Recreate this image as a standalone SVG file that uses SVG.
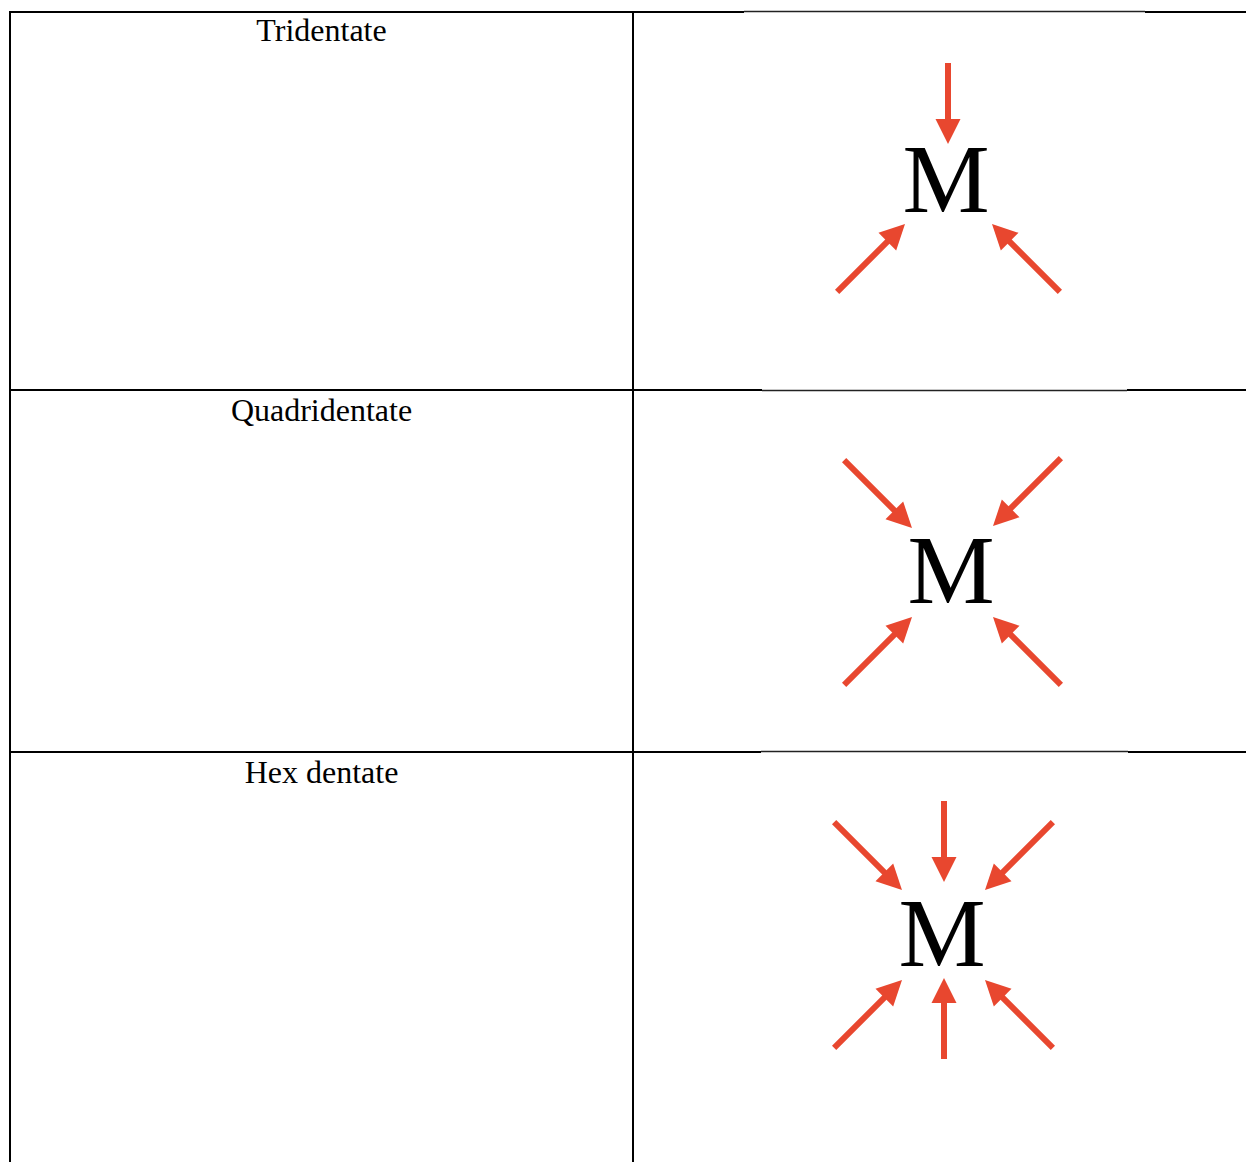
<svg xmlns="http://www.w3.org/2000/svg" xmlns:xlink="http://www.w3.org/1999/xlink" width="1246" height="1162" viewBox="0 0 1246 1162">
  <style>
    .grid { stroke: #000; stroke-width: 2; fill: none; }
    .grid-thin { stroke: #222; stroke-width: 1.5; fill: none; }
    .label { font-family: "Liberation Serif", "Times New Roman", serif; font-size: 32px; fill: #000; text-anchor: middle; }
    .metal { font-family: "Liberation Serif", "Times New Roman", serif; font-size: 98px; fill: #000; text-anchor: middle; }
    .shaft { stroke: #e8472f; stroke-width: 6; fill: none; }
    .head { fill: #e8472f; }
  </style>
  <defs>
    <!-- arrows point along +x with the tip at the origin -->
    <g id="arrow-long">
      <line class="shaft" x1="-96" y1="0" x2="-20" y2="0"/>
      <polygon class="head" points="0,0 -25,-12.5 -25,12.5"/>
    </g>
    <g id="arrow-short">
      <line class="shaft" x1="-81" y1="0" x2="-20" y2="0"/>
      <polygon class="head" points="0,0 -25,-12.5 -25,12.5"/>
    </g>
  </defs>

  <rect width="1246" height="1162" fill="#fff"/>

  <!-- table rules -->
  <g id="table">
    <line class="grid" x1="10" y1="12" x2="744" y2="12"/>
    <line class="grid-thin" x1="744" y1="11.5" x2="1145" y2="11.5"/>
    <line class="grid" x1="1145" y1="12" x2="1246" y2="12"/>
    <line class="grid" x1="10" y1="390" x2="762" y2="390"/>
    <line class="grid-thin" x1="762" y1="390.5" x2="1127" y2="390.5"/>
    <line class="grid" x1="1127" y1="390" x2="1246" y2="390"/>
    <line class="grid" x1="10" y1="752" x2="761" y2="752"/>
    <line class="grid-thin" x1="761" y1="751.5" x2="1128" y2="751.5"/>
    <line class="grid" x1="1128" y1="752" x2="1246" y2="752"/>
    <line class="grid" x1="10" y1="11" x2="10" y2="1162"/>
    <line class="grid" x1="633" y1="11" x2="633" y2="1162"/>
  </g>

  <!-- row labels -->
  <g id="label-tridentate"><text class="label" x="321.5" y="41">Tridentate</text></g>
  <g id="label-quadridentate"><text class="label" x="321.5" y="421">Quadridentate</text></g>
  <g id="label-hexdentate"><text class="label" x="321.5" y="783">Hex dentate</text></g>

  <!-- metal centres -->
  <g id="metal-tri"><text class="metal" x="946" y="212">M</text></g>
  <g id="metal-quad"><text class="metal" x="951" y="603">M</text></g>
  <g id="metal-hex"><text class="metal" x="942" y="966">M</text></g>

  <!-- donor arrows -->
  <g id="connectors">
    <!-- tridentate -->
    <use xlink:href="#arrow-short" transform="translate(948,144) rotate(90)"/>
    <use xlink:href="#arrow-long" transform="translate(905,224) rotate(-45)"/>
    <use xlink:href="#arrow-long" transform="translate(992,224) rotate(-135)"/>
    <!-- quadridentate -->
    <use xlink:href="#arrow-long" transform="translate(912,528) rotate(45)"/>
    <use xlink:href="#arrow-long" transform="translate(993,526) rotate(135)"/>
    <use xlink:href="#arrow-long" transform="translate(912,617) rotate(-45)"/>
    <use xlink:href="#arrow-long" transform="translate(993,617) rotate(-135)"/>
    <!-- hexadentate -->
    <use xlink:href="#arrow-long" transform="translate(902,890) rotate(45)"/>
    <use xlink:href="#arrow-short" transform="translate(944,882) rotate(90)"/>
    <use xlink:href="#arrow-long" transform="translate(985,890) rotate(135)"/>
    <use xlink:href="#arrow-long" transform="translate(902,980) rotate(-45)"/>
    <use xlink:href="#arrow-short" transform="translate(944,978) rotate(-90)"/>
    <use xlink:href="#arrow-long" transform="translate(985,980) rotate(-135)"/>
  </g>
</svg>
